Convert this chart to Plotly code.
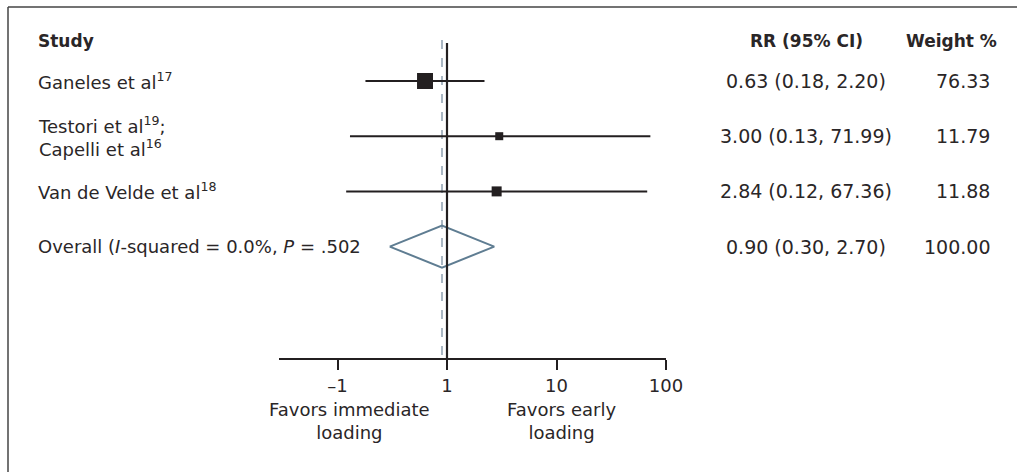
import plotly.graph_objects as go

# ---- data ----
studies = ["Ganeles et al<sup>17</sup>",
           "Testori et al<sup>19</sup>;<br>Capelli et al<sup>16</sup>",
           "Van de Velde et al<sup>18</sup>"]
rr = [0.63, 3.00, 2.84]
lo = [0.18, 0.13, 0.12]
hi = [2.20, 71.99, 67.36]
weights = [76.33, 11.79, 11.88]
marker_px = [16, 8, 10]

overall_label = "Overall (<i>I</i>-squared = 0.0%, <i>P</i> = .502"
overall_rr, overall_lo, overall_hi, overall_w = 0.90, 0.30, 2.70, 100.00

tick_vals = [0.1, 1, 10, 100]
tick_text = ["\u20131", "1", "10", "100"]

left_note = "Favors immediate<br>loading"
right_note = "Favors early<br>loading"

# ---- layout helpers ----
W, H = 1017, 472
L, R, T, B = 279, 351, 0, 114
PW = W - L - R
PH = H - T - B
ROW_PX = 55.2
ROW1_PX = 81.0
y_top = 1 - ROW1_PX / ROW_PX
y_bot = 1 + (PH - ROW1_PX) / ROW_PX

def px_to_paper_x(px):
    return (px - L) / PW

def py_to_paper_y(py):
    return (PH - py) / PH

FONT = "DejaVu Sans"
TXT = "#2a2627"
FS = 18
FS_NUM = 19
FS_HEAD = 17

rows = [1, 2, 3]
overall_row = 4
header_row = 0.27

fig = go.Figure()

# study CIs + squares
for i in range(len(rr)):
    fig.add_trace(go.Scatter(
        x=[rr[i]], y=[rows[i]], mode="markers",
        marker=dict(symbol="square", size=marker_px[i], color="#231f20",
                    line=dict(width=0)),
        error_x=dict(type="data", symmetric=False,
                     array=[hi[i] - rr[i]], arrayminus=[rr[i] - lo[i]],
                     color="#231f20", thickness=2, width=0),
        showlegend=False, hoverinfo="skip"))

# overall diamond
dh = 21 / ROW_PX
fig.add_trace(go.Scatter(
    x=[overall_lo, overall_rr, overall_hi, overall_rr, overall_lo],
    y=[overall_row, overall_row - dh, overall_row, overall_row + dh, overall_row],
    mode="lines", line=dict(color="#5f7d92", width=2),
    fill="toself", fillcolor="rgba(255,255,255,0)",
    showlegend=False, hoverinfo="skip"))

# vertical reference lines
fig.add_shape(type="line", xref="x", yref="y", x0=overall_rr, x1=overall_rr,
              y0=header_row - 0.015, y1=y_bot,
              line=dict(color="#a9b6c2", width=2, dash="dash"), layer="below")
fig.add_shape(type="line", xref="x", yref="y", x0=1, x1=1,
              y0=0.31, y1=y_bot,
              line=dict(color="#231f20", width=2.2))

# frame (left + top)
fx = px_to_paper_x(8)
fy = py_to_paper_y(7)
fig.add_shape(type="line", xref="paper", yref="paper", x0=fx, x1=fx,
              y0=fy, y1=-0.5, line=dict(color="#444", width=1.5))
fig.add_shape(type="line", xref="paper", yref="paper", x0=fx, x1=2.2,
              y0=fy, y1=fy, line=dict(color="#444", width=1.5))

ann = []
xl = px_to_paper_x(36)
xrr = px_to_paper_x(806)
xw = px_to_paper_x(992)
# headers
ann.append(dict(x=xl, y=header_row, xref="paper", yref="y", xanchor="left",
                text="<b>Study</b>", showarrow=False, font=dict(size=FS_HEAD)))
ann.append(dict(x=xrr, y=header_row, xref="paper", yref="y", xanchor="center",
                text="<b>RR (95% CI)</b>", showarrow=False, font=dict(size=FS_HEAD)))
ann.append(dict(x=px_to_paper_x(999), y=header_row, xref="paper", yref="y",
                xanchor="right", text="<b>Weight %</b>", showarrow=False,
                font=dict(size=FS_HEAD)))

labels = studies + [overall_label]
all_rr = rr + [overall_rr]
all_lo = lo + [overall_lo]
all_hi = hi + [overall_hi]
all_w = weights + [overall_w]
all_rows = rows + [overall_row]
for lab, r_, l_, h_, w_, yr in zip(labels, all_rr, all_lo, all_hi, all_w, all_rows):
    ann.append(dict(x=xl, y=yr, xref="paper", yref="y", xanchor="left",
                    align="left", text=lab, showarrow=False))
    ann.append(dict(x=xrr, y=yr, xref="paper", yref="y", xanchor="center",
                    text=f"{r_:.2f} ({l_:.2f}, {h_:.2f})", showarrow=False,
                    font=dict(size=FS_NUM)))
    ann.append(dict(x=xw, y=yr, xref="paper", yref="y", xanchor="right",
                    text=f"{w_:.2f}", showarrow=False, font=dict(size=FS_NUM)))

ny = py_to_paper_y(421)
ann.append(dict(x=px_to_paper_x(349), y=ny, xref="paper", yref="paper",
                xanchor="center", yanchor="middle", text=left_note,
                showarrow=False, align="center"))
ann.append(dict(x=px_to_paper_x(561), y=ny, xref="paper", yref="paper",
                xanchor="center", yanchor="middle", text=right_note,
                showarrow=False, align="center"))

fig.update_layout(
    width=W, height=H,
    margin=dict(l=L, r=R, t=T, b=B, pad=0),
    paper_bgcolor="white", plot_bgcolor="white",
    font=dict(family=FONT, size=FS, color=TXT),
    annotations=ann,
    xaxis=dict(type="log", range=[2 - PW / 109.5, 2],
               tickvals=tick_vals, ticktext=tick_text,
               ticks="outside", ticklen=10, tickwidth=2, tickcolor="#231f20",
               showline=True, linecolor="#231f20", linewidth=2,
               showgrid=False, zeroline=False,
               tickfont=dict(family=FONT, size=FS, color=TXT)),
    yaxis=dict(visible=False, range=[y_bot, y_top], fixedrange=True),
)

fig.write_html("out.html", config={"displayModeBar": False},
               post_script="document.body.style.margin='0px';document.body.style.padding='0px';")
